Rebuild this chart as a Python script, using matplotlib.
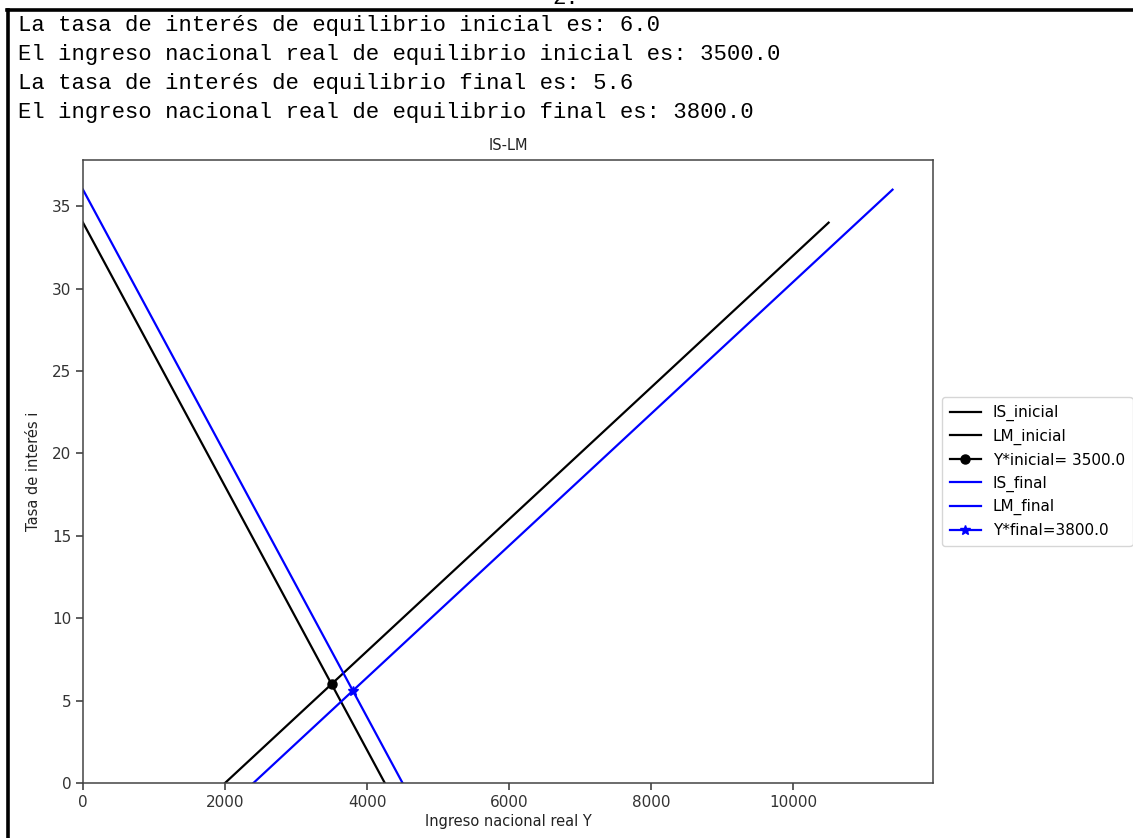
import matplotlib
matplotlib.use("Agg")
import matplotlib.pyplot as plt

# ── Datos (extremos de cada recta) ──
Y_IS_inicial = [0, 4250]
i_IS_inicial = [34, 0]
Y_LM_inicial = [2000, 10500]
i_LM_inicial = [0, 34]
Y_IS_final = [0, 4500]
i_IS_final = [36, 0]
Y_LM_final = [2400, 11400]
i_LM_final = [0, 36]

Y_eq_inicial, i_eq_inicial = 3500.0, 6.0
Y_eq_final, i_eq_final = 3800.0, 5.6

lineas_texto = [
    "La tasa de interés de equilibrio inicial es: 6.0",
    "El ingreso nacional real de equilibrio inicial es: 3500.0",
    "La tasa de interés de equilibrio final es: 5.6",
    "El ingreso nacional real de equilibrio final es: 3800.0",
]

W, H = 1133, 838
fig = plt.figure(figsize=(W / 100, H / 100), dpi=100)
fig.patch.set_facecolor("white")

# ── marco de la captura ──
fig.add_artist(plt.Line2D([8 / W, 8 / W], [0, 1 - 10 / H], color="black", lw=2.6))
fig.add_artist(plt.Line2D([7 / W, 1], [1 - 10.5 / H, 1 - 10.5 / H], color="black", lw=2.6))
fig.text(566 / W, 1 + 1 / H, "2.", ha="center", va="center",
         family="Liberation Mono", fontsize=16)

# ── salida de texto (print) ──
for k, linea in enumerate(lineas_texto):
    fig.text(18 / W, 1 - (26 + 28.8 * k) / H, linea, ha="left", va="center",
             family="Liberation Mono", fontsize=16, color="black")

# ── gráfico IS-LM ──
ax = fig.add_axes([83 / W, 1 - 783 / H, 850 / W, 623 / H])
ax.plot(Y_IS_inicial, i_IS_inicial, color="k", lw=1.6, label="IS_inicial")
ax.plot(Y_LM_inicial, i_LM_inicial, color="k", lw=1.6, label="LM_inicial")
ax.plot([Y_eq_inicial], [i_eq_inicial], "-o", color="k", ms=6.5, lw=1.6,
        label="Y*inicial= %s" % Y_eq_inicial)
ax.plot(Y_IS_final, i_IS_final, color="b", lw=1.6, label="IS_final")
ax.plot(Y_LM_final, i_LM_final, color="b", lw=1.6, label="LM_final")
ax.plot([Y_eq_final], [i_eq_final], "-*", color="b", ms=7, lw=1.6,
        label="Y*final=%s" % Y_eq_final)

ax.set_xlim(0, 11970)
ax.set_ylim(0, 37.8)
ax.set_xticks([0, 2000, 4000, 6000, 8000, 10000])
ax.set_yticks([0, 5, 10, 15, 20, 25, 30, 35])
ax.tick_params(labelsize=11, colors="#333333", width=1.1, length=5)
for s in ax.spines.values():
    s.set_color("#444444")
    s.set_linewidth(1.1)
ax.set_title("IS-LM", fontsize=10.5, pad=7, color="#222222")
ax.set_xlabel("Ingreso nacional real Y", fontsize=10.5, color="#222222", labelpad=3)
ax.set_ylabel("Tasa de interés i", fontsize=10.5, color="#222222", labelpad=8)
ax.legend(loc="center left", bbox_to_anchor=(1.002, 0.5), fontsize=11,
          handlelength=2.0, borderpad=0.5, labelspacing=0.5)

fig.savefig("out.png", dpi=100)
